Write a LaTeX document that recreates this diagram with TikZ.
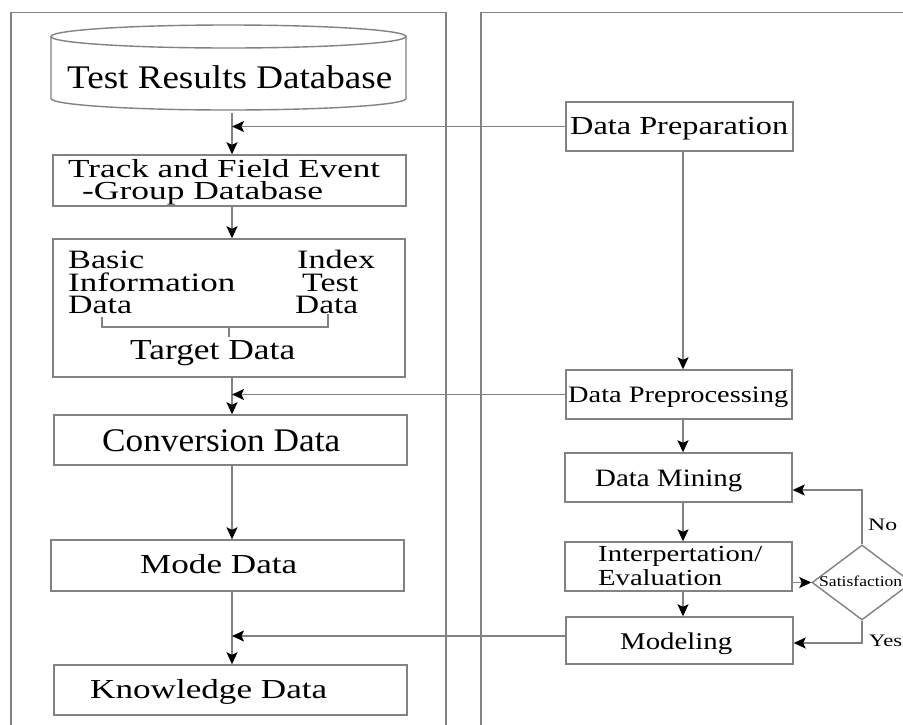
\documentclass[tikz,border=0pt]{standalone}
\usepackage{fontspec}
\setmainfont{Liberation Serif}
\usepackage{graphicx}
\usetikzlibrary{arrows.meta,shapes.geometric,calc}
\definecolor{linegray}{RGB}{130,130,130}
\newcommand{\tw}[2]{\resizebox{#1pt}{\height}{#2}}
\begin{document}
\begin{tikzpicture}[x=1pt,y=-1pt,
  gl/.style={draw=linegray, line width=1.4pt},
  box/.style={draw=linegray, line width=1.4pt, rectangle, inner sep=0pt},
  arr/.style={draw=linegray, line width=1.4pt, -{Stealth[length=12pt,width=11pt,inset=2.5pt,color=black]}},
  txt/.style={anchor=base west, inner sep=0pt, text=black},
]
\useasboundingbox (0,0) rectangle (903,724);
\clip (0,0) rectangle (903,724);
\fill[white] (0,0) rectangle (903,724);

% panels
\draw[gl] (11,730) -- (11,12.5) -- (446,12.5) -- (446,730);
\draw[gl] (910,12.5) -- (481,12.5) -- (481,730);

% cylinder
\node[minimum width=355pt, minimum height=85pt, inner sep=0pt] (db) at (228.5,67.5) {};
\draw[gl] (228.5,36.5) ellipse [x radius=177.5, y radius=11.5];
\draw[gl] (51,36.5) -- (51,98.5) arc[start angle=180, end angle=0, x radius=177.5, y radius=11.5] -- (406,36.5);
\node[txt, font=\fontsize{33}{33}\selectfont] (tdb) at (67,88) {\tw{325}{Test Results Database}};

% left boxes
\node[box, minimum width=353pt, minimum height=51pt] (tf) at (229.5,180.5) {};
\node[txt, font=\fontsize{26}{26}\selectfont] (tf1) at (68,177) {\tw{312}{Track and Field Event}};
\node[txt, font=\fontsize{26}{26}\selectfont] (tf2) at (82,199) {\tw{241}{-Group Database}};

\node[box, minimum width=352pt, minimum height=138pt] (tgt) at (229,308) {};
\node[txt, font=\fontsize{26.5}{26.5}\selectfont] (b1) at (68,268) {\tw{76}{Basic}};
\node[txt, font=\fontsize{26.5}{26.5}\selectfont] (b2) at (68,291) {\tw{167}{Information}};
\node[txt, font=\fontsize{26.5}{26.5}\selectfont] (b3) at (68,313) {\tw{64}{Data}};
\node[txt, font=\fontsize{26.5}{26.5}\selectfont] (i1) at (297,268) {\tw{78}{Index}};
\node[txt, font=\fontsize{26.5}{26.5}\selectfont] (i2) at (302,291) {\tw{56}{Test}};
\node[txt, font=\fontsize{26.5}{26.5}\selectfont] (i3) at (295,313) {\tw{63}{Data}};
\coordinate (bl) at (102,317);
\coordinate (br) at (328,314);
\coordinate (bm) at (229,327);
\draw[gl] (bl) -- (bl |- bm) -- (br |- bm) -- (br);
\draw[gl] (bm) -- ($(bm)+(0,10)$);
\node[txt, font=\fontsize{29}{29}\selectfont] (td) at (130,359) {\tw{165}{Target Data}};

\node[box, minimum width=353pt, minimum height=50pt] (conv) at (230.5,440) {};
\node[txt, font=\fontsize{33}{33}\selectfont] (tconv) at (102,451.5) {\tw{238}{Conversion Data}};

\node[box, minimum width=353pt, minimum height=51pt] (mode) at (227.5,565.5) {};
\node[txt, font=\fontsize{27.5}{27.5}\selectfont] (tmode) at (140,573.3) {\tw{157}{Mode Data}};

\node[box, minimum width=353pt, minimum height=50pt] (know) at (230.5,690) {};
\node[txt, font=\fontsize{27.5}{27.5}\selectfont] (tknow) at (90,698.3) {\tw{237}{Knowledge Data}};

% right boxes
\node[box, minimum width=227pt, minimum height=49pt] (prep) at (679.5,126.5) {};
\node[txt, font=\fontsize{26}{26}\selectfont] (tprep) at (570,134) {\tw{218}{Data Preparation}};

\node[box, minimum width=226pt, minimum height=49pt] (preproc) at (679,394.5) {};
\node[txt, font=\fontsize{23.5}{23.5}\selectfont] (tpreproc) at (568,402) {\tw{220}{Data Preprocessing}};

\node[box, minimum width=227pt, minimum height=49pt] (mining) at (678.5,477.5) {};
\node[txt, font=\fontsize{25}{25}\selectfont] (tmining) at (595,486.7) {\tw{147}{Data Mining}};

\node[box, minimum width=227pt, minimum height=49pt] (interp) at (678.5,566.5) {};
\node[txt, font=\fontsize{23}{23}\selectfont] (tint1) at (598,561.7) {\tw{164}{Interpertation/}};
\node[txt, font=\fontsize{23}{23}\selectfont] (tint2) at (598,585) {\tw{124}{Evaluation}};

\node[box, minimum width=227pt, minimum height=47pt] (model) at (679.5,640.5) {};
\node[txt, font=\fontsize{24}{24}\selectfont] (tmodel) at (620,649.3) {\tw{112}{Modeling}};

\node[draw=linegray, line width=1.4pt, diamond, minimum width=100pt, minimum height=75pt, inner sep=0pt] (dia) at (862,582.5) {};
\node[txt, font=\fontsize{15}{15}\selectfont] (tdia) at (819,586.5) {\tw{83}{Satisfaction}};
\node[txt, font=\fontsize{17.5}{17.5}\selectfont] (tno) at (868,530) {\tw{29}{No}};
\node[txt, font=\fontsize{17.5}{17.5}\selectfont] (tyes) at (869,646) {\tw{33}{Yes}};

% left column connectors
\coordinate (j1) at (232,126.5);
\coordinate (j2) at (232,394.5);
\coordinate (j3) at (232,636);
\draw[arr] (232,113) -- (tf.north -| j1);
\draw[arr] (prep.west) -- (j1);
\draw[arr] (tf.south -| j1) -- (tgt.north -| j1);
\draw[arr] (tgt.south -| j1) -- (conv.north -| j1);
\draw[arr] (preproc.west) -- (j2);
\draw[arr] (conv.south -| j1) -- (mode.north -| j1);
\draw[arr] (mode.south -| j1) -- (know.north -| j1);
\draw[arr] (j3 -| model.west) -- (j3);

% right column connectors
\coordinate (r) at (683,0);
\draw[arr] (prep.south -| r) -- (preproc.north -| r);
\draw[arr] (preproc.south -| r) -- (mining.north -| r);
\draw[arr] (mining.south -| r) -- (interp.north -| r);
\draw[arr] (interp.south -| r) -- (model.north -| r);
\draw[arr] (dia.west -| interp.east) -- (dia.west);
\coordinate (nob) at (862,490);
\coordinate (yesb) at (862,643);
\draw[arr] (dia.north) -- (nob) -- (nob -| mining.east);
\draw[arr] (dia.south) -- (yesb) -- (yesb -| model.east);
\end{tikzpicture}
\end{document}
